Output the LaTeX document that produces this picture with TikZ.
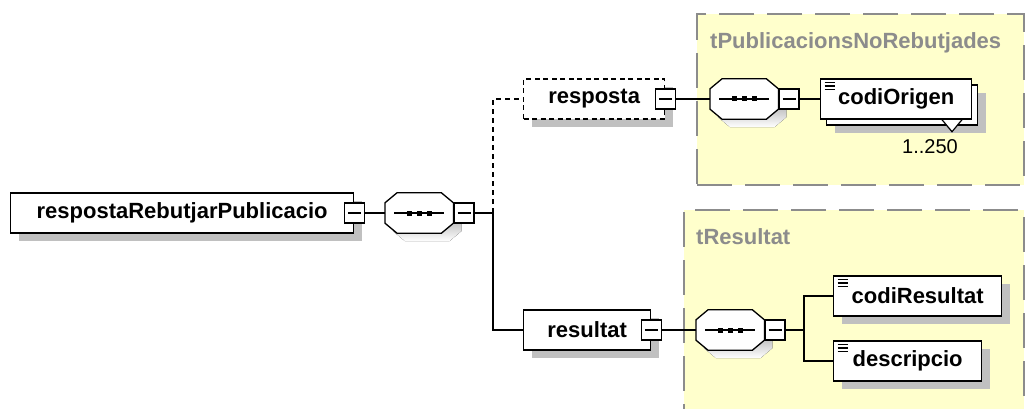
\documentclass[tikz,border=0pt]{standalone}
\usepackage{fontspec}
\setmainfont{Liberation Sans}
\usepackage{tikz}
\usetikzlibrary{positioning, shapes.geometric, shadows, calc}
\definecolor{grpfill}{RGB}{255,255,204}
\definecolor{grpline}{RGB}{140,140,140}
\definecolor{shade}{RGB}{192,192,192}
\tikzstyle{elembox} = [rectangle, draw=black, fill=white, line width=1.3pt, minimum height=40pt, inner sep=0pt, font=\fontsize{22}{26}\selectfont\bfseries]
\tikzstyle{elem} = [elembox, drop shadow={shadow xshift=8pt, shadow yshift=-8pt, fill=shade, opacity=1}]
\tikzstyle{optelem} = [elem, dash pattern=on 5pt off 3.5pt]
\tikzstyle{simple} = [path picture={\foreach \k in {0,1,2} \draw[line width=1.2pt] ([xshift=4pt, yshift={-(3.5+3.5*\k)*1pt}]path picture bounding box.north west) -- ++(10pt,0pt);}]
\tikzstyle{minus} = [rectangle, draw=black, fill=white, line width=1.3pt, minimum size=20pt, inner sep=0pt, path picture={\draw[line width=1.3pt] ([xshift=-6.5pt]path picture bounding box.center) -- ([xshift=6.5pt]path picture bounding box.center);}]
\tikzstyle{seq} = [rectangle, minimum width=68pt, minimum height=40pt, inner sep=0pt]
\tikzstyle{seqline} = [draw=black, fill=white, line width=1.3pt]
\tikzstyle{group} = [rectangle, draw=grpline, fill=grpfill, line width=2pt, dash pattern=on 35pt off 13pt, inner sep=0pt, anchor=north west]
\tikzstyle{grouplabel} = [text=grpline, font=\fontsize{22}{26}\selectfont\bfseries, anchor=west, inner sep=0pt]
\tikzstyle{conn} = [line width=1.3pt]

\begin{document}
\begin{tikzpicture}[x=1pt, y=-1pt]
    \useasboundingbox (0,0) rectangle (1026,409);
    %分组背景
    \node (grpTop) [group, minimum width=327pt, minimum height=171pt] at (696,13) {};
    \node (grpBottom) [group, minimum width=340pt, minimum height=230pt] at (683,209) {};
    \node (grpTopLabel) [grouplabel] at (710,43) {tPublicacionsNoRebutjades};
    \node (grpBottomLabel) [grouplabel] at (696,237) {tResultat};

    %定义元素
    \node (root) [elem, minimum width=343pt, anchor=west] at (10,213) {respostaRebutjarPublicacio};
    \node (rootMinus) [minus] at (root.east) {};
    \node (rootSeq) [seq, anchor=west] at (385,213) {};
    \coordinate (choice) at (493,213);

    \node (resposta) [optelem, minimum width=141pt, anchor=west] at (523,99) {resposta};
    \node (respostaMinus) [minus] at (resposta.east) {};
    \node (seqTop) [seq, anchor=west] at (710,99) {};
    \node (codiOrigenBack) [elem, minimum width=151pt, anchor=west] at (826,105) {};
    \node (codiOrigenMark) [diamond, draw=black, fill=white, line width=1.2pt, minimum width=20pt, minimum height=24pt, inner sep=0pt] at (952,120) {};
    \node (codiOrigen) [elembox, simple, minimum width=151pt, anchor=west] at (820,99) {codiOrigen};
    \node (codiOrigenCard) [font=\fontsize{20}{24}\selectfont, inner sep=0pt] at (930,147) {1..250};

    \node (resultat) [elem, minimum width=127pt, anchor=west] at (523,330) {resultat};
    \node (resultatMinus) [minus] at (resultat.east) {};
    \node (seqBottom) [seq, anchor=west] at (696,330) {};
    \coordinate (fork) at (804,330);
    \node (codiResultat) [elem, simple, minimum width=168pt, anchor=west] at (833,296) {codiResultat};
    \node (descripcio) [elem, simple, minimum width=148pt, anchor=west] at (833,361) {descripcio};

    %序列符号
    \foreach \s in {rootSeq, seqTop, seqBottom} {
        \fill [shade] ([shift={(20pt,-8pt)}]\s.north west) -- ([shift={(-4pt,-8pt)}]\s.north east) -- ([shift={(8pt,-18pt)}]\s.north east) -- ([shift={(8pt,2pt)}]\s.south east) -- ([shift={(-4pt,-8pt)}]\s.south east) -- ([shift={(20pt,-8pt)}]\s.south west) -- ([shift={(8pt,2pt)}]\s.south west) -- ([shift={(8pt,-18pt)}]\s.north west) -- cycle;
        \draw [seqline] ([shift={(12pt,0pt)}]\s.north west) -- ([shift={(-12pt,0pt)}]\s.north east) -- ([shift={(0pt,-10pt)}]\s.north east) -- ([shift={(0pt,10pt)}]\s.south east) -- ([shift={(-12pt,0pt)}]\s.south east) -- ([shift={(12pt,0pt)}]\s.south west) -- ([shift={(0pt,10pt)}]\s.south west) -- ([shift={(0pt,-10pt)}]\s.north west) -- cycle;
        \draw [conn] ([xshift=-25pt]\s.center) -- ([xshift=25pt]\s.center);
        \foreach \d in {-10,0,10}
            \fill [black] ([shift={({(\d-2.5)*1pt},-2.5pt)}]\s.center) rectangle ++(5pt,5pt);
    }
    \node (rootSeqMinus) [minus, anchor=west] at (rootSeq.east) {};
    \node (seqTopMinus) [minus, anchor=west] at (seqTop.east) {};
    \node (seqBottomMinus) [minus, anchor=west] at (seqBottom.east) {};

    %连接线
    \draw [conn] (rootMinus) -- (rootSeq);
    \draw [conn] (rootSeqMinus) -- (choice);
    \draw [conn, dash pattern=on 5pt off 4pt] (choice) |- (resposta);
    \draw [conn] (choice) |- (resultat);
    \draw [conn] (respostaMinus) -- (seqTop);
    \draw [conn] (seqTopMinus) -- (codiOrigen);
    \draw [conn] (resultatMinus) -- (seqBottom);
    \draw [conn] (seqBottomMinus) -- (fork);
    \draw [conn] (fork) |- (codiResultat);
    \draw [conn] (fork) |- (descripcio);
\end{tikzpicture}
\end{document}
